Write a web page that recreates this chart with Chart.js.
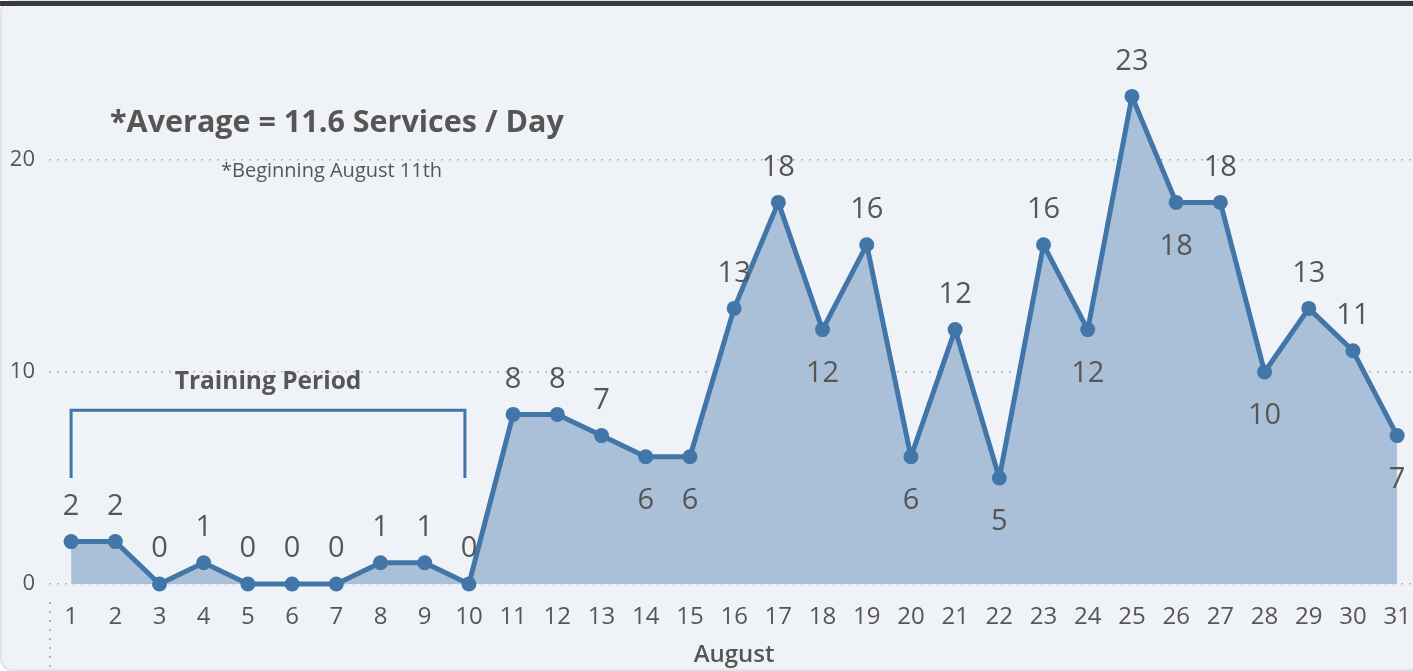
<!DOCTYPE html>
<html>
<head>
<meta charset="utf-8">
<script src="https://cdn.jsdelivr.net/npm/chart.js@4/dist/chart.umd.min.js"></script>
<style>
    html, body { margin: 0; padding: 0; }
    body { width: 1413px; height: 671px; overflow: hidden; position: relative; background: #ffffff; font-family: "Open Sans", "Noto Sans", sans-serif; color: #575655; }
    #card { position: absolute; left: 0; top: 0; width: 1440px; height: 667px; background: #eff3f8; border: 2px solid #e1e4e8; border-radius: 12px; }
    #topbar { position: absolute; left: 0; top: 1px; width: 1413px; height: 5px; background: #3a3a3a; }
    #chart { position: absolute; left: 0; top: 0; }
    .note { position: absolute; white-space: nowrap; line-height: 1; }
    #avg { left: 110px; top: 105px; font-size: 30.5px; font-weight: 700; }
    #since { left: 221px; top: 160px; font-size: 20px; }
</style>
</head>
<body>
<div id="card"></div>
<div id="topbar"></div>
<canvas id="chart" width="1430" height="671"></canvas>
<div class="note" id="avg">*Average = 11.6 Services / Day</div>
<div class="note" id="since">*Beginning August 11th</div>

<script>
// August, services per day
const days = Array.from({length: 31}, (_, i) => String(i + 1));
const services = [2, 2, 0, 1, 0, 0, 0, 1, 1, 0, 8, 8, 7, 6, 6, 13, 18, 12, 16, 6, 12, 5, 16, 12, 23, 18, 18, 10, 13, 11, 7];
const yTicks = [0, 10, 20];
const trainingLabel = 'Training Period';
const trainingDays = ['1', '10'];

const blue = '#4276a9';
const fillBlue = '#a9c0d8';
const textColor = '#575655';
const font = '"Open Sans", "Noto Sans", sans-serif';

// labels sit under the point when it is a dip, above otherwise
function labelBelow(i) {
    const v = services[i];
    const prev = i > 0 ? services[i - 1] : Infinity;
    const next = i < services.length - 1 ? services[i + 1] : Infinity;
    return v > 2 && v <= prev && v <= next;
}

const pointLabels = {
    id: 'pointLabels',
    afterDatasetsDraw(chart) {
        const ctx = chart.ctx;
        const meta = chart.getDatasetMeta(0);
        ctx.save();
        ctx.font = `500 29px ${font}`;
        ctx.fillStyle = textColor;
        ctx.textAlign = 'center';
        ctx.textBaseline = 'middle';
        meta.data.forEach((pt, i) => {
            ctx.fillText(String(services[i]), pt.x, pt.y + (labelBelow(i) ? 44 : -35));
        });
        ctx.restore();
    }
};

const trainingBracket = {
    id: 'trainingBracket',
    afterDraw(chart) {
        const { ctx, scales: { x, y }, chartArea } = chart;
        const x1 = x.getPixelForValue(days.indexOf(trainingDays[0]));
        const x2 = x.getPixelForValue(days.indexOf(trainingDays[1])) - 4;
        const top = y.getPixelForValue(8.2);
        const bottom = y.getPixelForValue(5);
        ctx.save();
        ctx.strokeStyle = blue;
        ctx.lineWidth = 3;
        ctx.beginPath();
        ctx.moveTo(x1, bottom);
        ctx.lineTo(x1, top);
        ctx.lineTo(x2, top);
        ctx.lineTo(x2, bottom);
        ctx.stroke();

        ctx.font = `700 24.5px ${font}`;
        ctx.fillStyle = textColor;
        ctx.textAlign = 'center';
        ctx.textBaseline = 'middle';
        ctx.fillText(trainingLabel, (x1 + x2) / 2, top - 28);

        // dotted stub under the plot, left side
        ctx.strokeStyle = 'rgba(150,150,150,0.7)';
        ctx.lineWidth = 2;
        ctx.setLineDash([2, 7]);
        ctx.beginPath();
        ctx.moveTo(chartArea.left + 1, chartArea.bottom + 18);
        ctx.lineTo(chartArea.left + 1, chart.height);
        ctx.stroke();
        ctx.restore();
    }
};

new Chart(document.getElementById('chart'), {
    type: 'line',
    data: {
        labels: days,
        datasets: [{
            data: services,
            borderColor: blue,
            backgroundColor: fillBlue,
            fill: 'origin',
            tension: 0,
            borderWidth: 5,
            borderJoinStyle: 'round',
            pointRadius: 7.5,
            pointHoverRadius: 7.5,
            pointBackgroundColor: blue,
            pointBorderWidth: 0,
            clip: false,
        }],
    },
    options: {
        responsive: false,
        animation: false,
        layout: { padding: { top: 54, left: 0, right: 0, bottom: 0 } },
        plugins: { legend: { display: false }, tooltip: { enabled: false } },
        scales: {
            x: {
                offset: true,
                grid: { display: false, drawTicks: false },
                border: { display: false },
                ticks: { color: textColor, font: { family: font, size: 24, weight: '500' }, padding: 19, maxRotation: 0, autoSkip: false },
                title: { display: true, text: 'August', color: textColor, font: { family: font, size: 24, weight: '600' }, padding: { top: 0, bottom: 1 } },
                afterFit(scale) { scale.height = 87; },
            },
            y: {
                min: 0,
                max: 25,
                grid: { color: 'rgba(150,150,150,0.65)', lineWidth: 1.5, drawTicks: false },
                border: { display: false, dash: [2, 6] },
                ticks: { stepSize: 10, color: textColor, font: { family: font, size: 22 }, padding: 14 },
                afterBuildTicks(scale) { scale.ticks = yTicks.map(v => ({ value: v })); },
                afterFit(scale) { scale.width = 49; },
            },
        },
    },
    plugins: [pointLabels, trainingBracket],
});
</script>
</body>
</html>
